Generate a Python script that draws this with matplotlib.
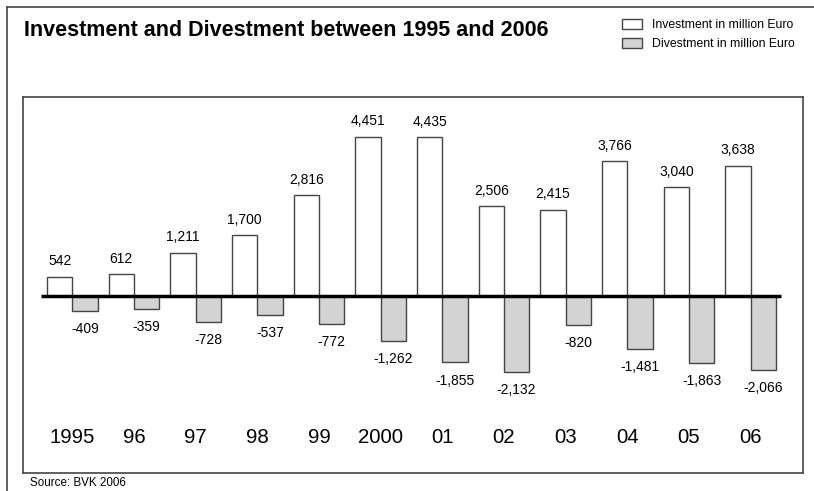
import matplotlib.pyplot as plt
from matplotlib.lines import Line2D
from matplotlib.patches import Patch

plt.rcParams['font.family'] = ['Liberation Sans', 'DejaVu Sans']

# data
years = ['1995', '96', '97', '98', '99', '2000', '01', '02', '03', '04', '05', '06']
investment = [542, 612, 1211, 1700, 2816, 4451, 4435, 2506, 2415, 3766, 3040, 3638]
divestment = [-409, -359, -728, -537, -772, -1262, -1855, -2132, -820, -1481, -1863, -2066]

W, H = 814, 491
fig = plt.figure(figsize=(W / 100, H / 100), dpi=100)

# outer frame (top and left edges)
fig.add_artist(Line2D([7 / W, 1], [1 - 7 / H, 1 - 7 / H], color='#444444', lw=1.2))
fig.add_artist(Line2D([7 / W, 7 / W], [0, 1 - 7 / H], color='#444444', lw=1.2))

ax = fig.add_axes([23 / W, 18 / H, 780 / W, 376 / H])
x = list(range(len(years)))
bw = 0.41
edge = '#444444'

ax.bar([i - bw / 2 for i in x], investment, width=bw, color='white',
       edgecolor=edge, linewidth=1.0)
ax.bar([i + bw / 2 for i in x], divestment, width=bw, color='#d3d3d3',
       edgecolor=edge, linewidth=1.0)

ax.hlines(0, -0.50, 11.49, color='black', linewidth=2.5, zorder=5)

for i, v in enumerate(investment):
    ax.annotate(f'{v:,}', (i - bw / 2, v), xytext=(0, 6), textcoords='offset points',
                ha='center', va='bottom', fontsize=10)
for i, v in enumerate(divestment):
    ax.annotate(f'{v:,}', (i + bw / 2, v), xytext=(0, -8), textcoords='offset points',
                ha='center', va='top', fontsize=10)

for i, y in enumerate(years):
    ax.text(i, -3966, y, ha='center', va='center', fontsize=14.7)

ax.set_xlim(-0.80, 11.85)
ax.set_ylim(-4944, 5559)
ax.set_xticks([])
ax.set_yticks([])
for s in ax.spines.values():
    s.set_color('#444444')
    s.set_linewidth(1.2)

fig.text(24 / W, 1 - 31 / H, 'Investment and Divestment between 1995 and 2006',
         fontsize=15.5, fontweight='bold', va='center', ha='left')

handles = [Patch(facecolor='white', edgecolor=edge, label='Investment in million Euro'),
           Patch(facecolor='#d3d3d3', edgecolor=edge, label='Divestment in million Euro')]
fig.legend(handles=handles, loc='upper left', bbox_to_anchor=(622 / W, 1 - 19 / H),
           frameon=False, fontsize=8.8, borderpad=0, borderaxespad=0,
           handlelength=1.63, handleheight=0.9, handletextpad=0.8, labelspacing=0.55)

fig.text(30 / W, 1 - 483 / H, 'Source: BVK 2006', fontsize=8.4, va='center', ha='left')

fig.savefig('out.png', dpi=100)
